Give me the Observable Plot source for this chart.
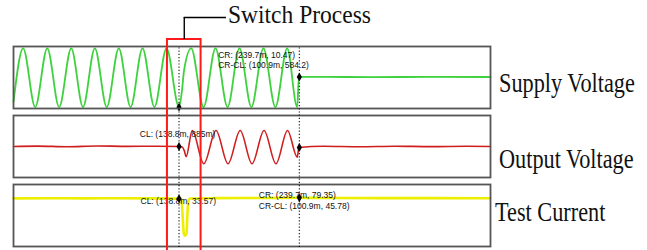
<!DOCTYPE html>
<html>
<head>
<meta charset="utf-8">
<script src="https://cdn.jsdelivr.net/npm/d3@7"></script>
<script src="https://cdn.jsdelivr.net/npm/@observablehq/plot@0.6"></script>
<style>
  html, body { margin: 0; padding: 0; background: #fff; }
  #root { position: relative; width: 647px; height: 250px; overflow: hidden; background: #fff; }
  .panel, .overlay { position: absolute; left: 0; }
  .overlay { top: 0; pointer-events: none; }
  .lbl { position: absolute; font-family: "Liberation Serif", "Times New Roman", serif; font-size: 28px; line-height: 22px; white-space: nowrap; color: #111; transform: scaleX(0.795); transform-origin: left top; }
</style>
</head>
<body>
<div id="root"></div>
<script>
// ---- time axis (ms) ----
const timeDomain = [0, 400];
const cursorTimes = [138.8, 239.7];           // CL, CR
const switchWindow = [129.1, 157.3];          // red "Switch Process" box

// ---- Supply Voltage (extrema) ----
const supplyT = [0, 8.1, 18.2, 28.3, 38.3, 48.4, 58.3, 68.2, 78.2, 88.3, 98.2, 108.2, 118.2, 128.3,
                 138.8, 141.3, 143, 149, 159.4, 169.4, 179.5, 189.5, 199.5, 209.6, 219.6, 229.5, 237.9,
                 239.3, 260, 300, 350, 400];
const supplyV = [-470, 565, -574, 565, -574, 565, -574, 565, -574, 565, -574, 565, -574, 565,
                 -573.7, -250, 135, 565, -574, 565, -574, 565, -574, 565, -574, 565, -574,
                 10.47, 11, 9, 11, 10];

// ---- Output Voltage ----
const outputT = [0, 20, 45, 70, 95, 120, 138.8, 141.5, 143.2, 144.8, 149.9, 159.6, 169.8, 179.9,
                 190.1, 200, 210.1, 220.1, 229.8, 237.9, 239.4, 260, 290, 320, 350, 380, 400];
const outputV = [0, 8, -5, 10, 3, 6, 0.885, -10, -80, -195, 310, -335, 310, -335,
                 310, -335, 310, -335, 310, -205, -20, 5, -4, 6, -3, 4, 0];

// ---- Test Current ----
const currentT = [0, 30, 60, 90, 120, 138.8, 140.9, 141.8, 142.8, 143.6, 144.4, 145.1, 145.8, 146.6,
                  148, 170, 200, 239.7, 270, 310, 350, 400];
const currentV = [50, 55, 48, 56, 50, 33.57, 30, -900, -1893, -2027, -1990, -1893, -900, -100,
                  40, 60, 70, 79.35, 65, 60, 62, 58];

// ---- cursor readouts ----
const supplyMarkers = [{t: 138.8, v: -573.7}, {t: 239.7, v: 10.47}];
const outputMarkers = [{t: 138.8, v: 0.885}, {t: 239.7, v: -20}];
const currentMarkers = [{t: 138.8, v: 33.57}, {t: 239.7, v: 79.35}];

const supplyLabels = [
  {t: 171.6, v: 426, s: "CR: (239.7m, 10.47)"},
  {t: 171.6, v: 232, s: "CR-CL: (100.9m, 584.2)"}
];
const outputLabels = [
  {t: 105.9, v: 246, s: "CL: (138.8m, 885m)"}
];
const currentLabels = [
  {t: 106.5, v: -136, s: "CL: (138.8m, 33.57)"},
  {t: 205.7, v: 236, s: "CR: (239.7m, 79.35)"},
  {t: 205.7, v: -414, s: "CR-CL: (100.9m, 45.78)"}
];

const titleText = "Switch Process";
const sideLabels = [
  {s: "Supply Voltage", left: 499, top: 72.3},
  {s: "Output Voltage", left: 499, top: 147.8},
  {s: "Test Current", left: 495, top: 201.2}
];

const zip = (T, V) => T.map((t, i) => ({t, v: V[i]}));

const root = document.getElementById("root");

function panel({data, domain, stroke, sw, markers, labels, top}) {
  const p = Plot.plot({
    width: 647, height: 66,
    marginLeft: 13, marginRight: 157, marginTop: 2, marginBottom: 2,
    x: {domain: timeDomain, axis: null},
    y: {domain, axis: null},
    style: {background: "transparent", overflow: "visible"},
    marks: [
      Plot.line(data, {x: "t", y: "v", stroke, strokeWidth: sw, curve: "monotone-x"}),
      Plot.text(labels, {x: "t", y: "v", text: "s", textAnchor: "start", fontSize: 8.5,
        fontFamily: "Liberation Sans, Arial, sans-serif", fill: "#111"}),
      Plot.dot(markers, {x: "t", y: "v", symbol: "diamond", r: 2.7, fill: "#000"}),
      Plot.frame({stroke: "#555", strokeWidth: 1.8})
    ]
  });
  p.classList.add("panel");
  p.style.top = top + "px";
  root.appendChild(p);
}

panel({data: zip(supplyT, supplyV), domain: [-600, 600], stroke: "#3ed23e", sw: 1.8,
       markers: supplyMarkers, labels: supplyLabels, top: 44});
panel({data: zip(outputT, outputV), domain: [-600, 600], stroke: "#d01e1e", sw: 1.6,
       markers: outputMarkers, labels: outputLabels, top: 113});
panel({data: zip(currentT, currentV), domain: [-2630, 820], stroke: "#ecf000", sw: 2.6,
       markers: currentMarkers, labels: currentLabels, top: 182});

// overlay: cursors, switch box, leader line (y in fraction of overlay frame)
const mid = (switchWindow[0] + switchWindow[1]) / 2;
const ov = Plot.plot({
  width: 647, height: 250,
  marginLeft: 13, marginRight: 157, marginTop: 17, marginBottom: 0,
  x: {domain: timeDomain, axis: null},
  y: {domain: [0, 1], axis: null},
  style: {background: "transparent", overflow: "visible"},
  marks: [
    Plot.ruleX(cursorTimes, {y1: 0.0129, y2: 0.8755, stroke: "#111", strokeWidth: 1.1, strokeDasharray: "1.2,2"}),
    Plot.rect([{x1: switchWindow[0], x2: switchWindow[1]}], {x1: "x1", x2: "x2", y1: -0.05, y2: 0.9056,
      stroke: "#ff1a1a", strokeWidth: 2, fill: "none"}),
    Plot.ruleX([mid], {y1: 0.9056, y2: 1, stroke: "#000", strokeWidth: 1.4}),
    Plot.ruleY([1], {x1: mid, x2: 178.6, stroke: "#000", strokeWidth: 1.4})
  ]
});
ov.classList.add("overlay");
root.appendChild(ov);

// serif labels
const sw = document.createElement("div");
sw.className = "lbl"; sw.textContent = titleText;
sw.style.fontSize = "25px";
sw.style.left = "228px"; sw.style.top = "4px"; sw.style.transform = "scaleX(0.94)";
root.appendChild(sw);
for (const d of sideLabels) {
  const el = document.createElement("div");
  el.className = "lbl"; el.textContent = d.s;
  el.style.left = d.left + "px"; el.style.top = d.top + "px";
  root.appendChild(el);
}
</script>
</body>
</html>
